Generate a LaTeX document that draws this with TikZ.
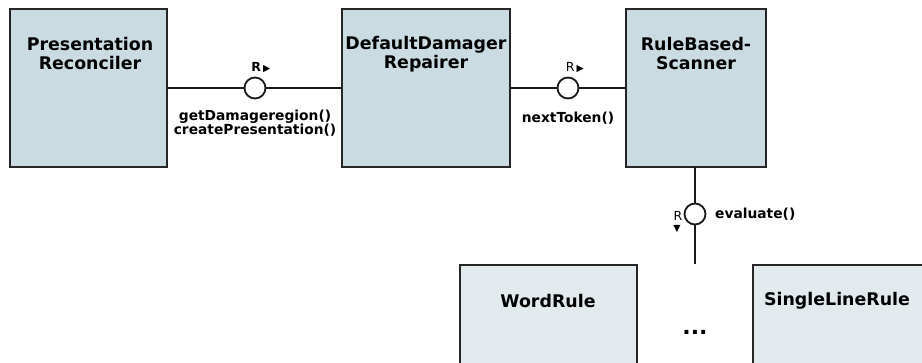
\documentclass[tikz,border=0pt]{standalone}
\usepackage{fontspec}
\setmainfont{DejaVu Sans}
\usetikzlibrary{positioning}
\newcommand{\rtri}{{\fontsize{9.5}{9}\selectfont\raisebox{0.4pt}{▶}}}
\newcommand{\dtri}{{\fontsize{9.5}{9}\selectfont ▼}}
\begin{document}
\begin{tikzpicture}[x=1pt,y=-1pt,
  comp/.style={draw=black!85, line width=1.8pt, fill=#1},
  comp/.default={compfill},
  title/.style={font=\bfseries\fontsize{17.4}{19}\selectfont, align=center, inner sep=0pt},
  lbl/.style={font=\bfseries\fontsize{13.8}{14}\selectfont, align=center, inner sep=0pt},
  rlbl/.style={font=\fontsize{12.5}{12}\selectfont, inner sep=0pt},
  wire/.style={draw=black!90, line width=1.8pt},
  port/.style={circle, draw=black!90, line width=1.8pt, fill=white, minimum size=21pt, inner sep=0pt},
]
\definecolor{compfill}{HTML}{CBDBE2}
\definecolor{rulefill}{HTML}{E2EAEE}
\useasboundingbox (0,0) rectangle (922,362);

% top row of components
\draw[comp] (10,9) rectangle (167,167);
\draw[comp] (342,9) rectangle (510,167);
\draw[comp] (626,9) rectangle (766,167);
\node[title] (pr) at (90,54) {Presentation\\Reconciler};
\node[title] (ddr) at (426,54) {DefaultDamager\\Repairer};
\node[title] (rbs) at (696,54) {RuleBased-\\Scanner};

% rule components
\draw[comp=rulefill] (460,265) rectangle (637,372);
\draw[comp=rulefill] (753,265) rectangle (930,372);
\node[title] (wr) at (548,301) {WordRule};
\node[title] (slr) at (837,301) {SingleLineRule};
\node[font=\bfseries\fontsize{22}{22}\selectfont, inner sep=0pt] (dots) at (695,332) {...};

% anchors on component borders
\coordinate (prE) at (167,88);
\coordinate (ddrW) at (342,88);
\coordinate (ddrE) at (510,88);
\coordinate (rbsW) at (626,88);
\coordinate (rbsS) at (695,167);
\coordinate (ruleTop) at (695,264);

% PresentationReconciler -- DefaultDamagerRepairer
\node[port] (p1) at (255,88) {};
\draw[wire] (prE) -- (p1) -- (ddrW);
\node[rlbl, font=\bfseries\fontsize{12.5}{12}\selectfont] (r1) at (261,67.5) {R\,\rtri};
\node[lbl] (m1) at (255,123) {getDamageregion()\\createPresentation()};

% DefaultDamagerRepairer -- RuleBasedScanner
\node[port] (p2) at (568,88) {};
\draw[wire] (ddrE) -- (p2) -- (rbsW);
\node[rlbl] (r2) at (575,67.5) {R\,\rtri};
\node[lbl] (m2) at (568,118) {nextToken()};

% RuleBasedScanner -- rules
\node[port] (p3) at (695,214) {};
\draw[wire] (rbsS) -- (p3) -- (ruleTop);
\node[rlbl] (r3) at (678,216) {R};
\node[rlbl] (r3a) at (677,229) {\dtri};
\node[lbl, anchor=west] (m3) at (715,214) {evaluate()};
\end{tikzpicture}
\end{document}
